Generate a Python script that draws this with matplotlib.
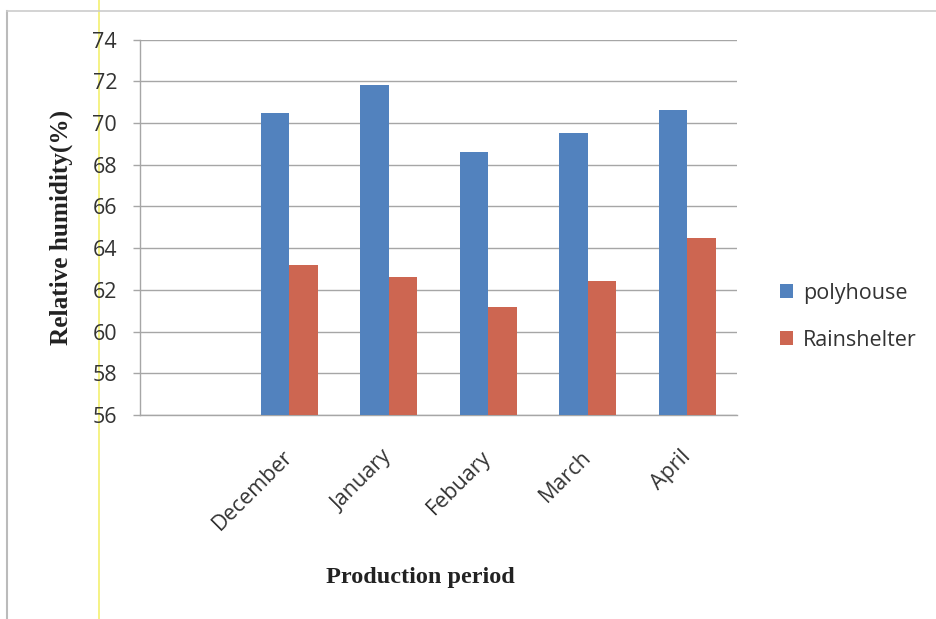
import matplotlib
matplotlib.use("Agg")
import matplotlib.pyplot as plt
import numpy as np
from matplotlib.lines import Line2D

# Relative humidity by production period
categories = ["", "December", "January", "Febuary", "March", "April"]
polyhouse = [np.nan, 70.5, 71.8, 68.6, 69.5, 70.6]
rainshelter = [np.nan, 63.2, 62.6, 61.2, 62.4, 64.5]
yticks = [56, 58, 60, 62, 64, 66, 68, 70, 72, 74]

blue = "#5282BE"
red = "#CD6651"
grid = "#A6A6A6"
tick_font = "Open Sans"

fig = plt.figure(figsize=(9.36, 6.19), dpi=100)
ax = fig.add_axes([140 / 936, 1 - 415 / 619, 597 / 936, 375.5 / 619])

x = np.arange(len(categories))
w = 0.287
ax.bar(x - w / 2, polyhouse, width=w, color=blue, label="polyhouse", zorder=3)
ax.bar(x + w / 2, rainshelter, width=w, color=red, label="Rainshelter", zorder=3)

ax.set_xlim(-0.5, len(categories) - 0.5)
ax.set_ylim(56, 74)
ax.set_yticks(yticks)
ax.set_yticklabels([str(v) for v in yticks], fontsize=15.5, family=tick_font, color="#333333")
ax.yaxis.grid(True, color=grid, linewidth=1.0, zorder=0)
ax.tick_params(axis="y", length=5, color=grid, width=1.0, pad=11.5)

ax.set_xticks(x)
ax.set_xticklabels(categories, rotation=45, ha="right", va="center",
                   rotation_mode="anchor", fontsize=15.5, family=tick_font,
                   color="#333333")
ax.tick_params(axis="x", length=0, pad=28)

for s in ["top", "right"]:
    ax.spines[s].set_visible(False)
for s in ["left", "bottom"]:
    ax.spines[s].set_color(grid)
    ax.spines[s].set_linewidth(1.0)

ax.set_ylabel("Relative humidity(%)", family="Liberation Serif", fontweight="bold",
              fontsize=18.2, color="#222222")
ax.yaxis.set_label_coords(-67 / 597, 0.5)
fig.text(420 / 936, 1 - 577 / 619, "Production period", family="Liberation Serif",
         fontweight="bold", fontsize=17.5, color="#222222", ha="center", va="center")

leg = ax.legend(loc="center left", bbox_to_anchor=(1.04, 0.262), frameon=False,
                prop={"family": tick_font, "size": 15.5}, handlelength=0.6,
                handleheight=0.6, handletextpad=0.45, labelspacing=1.2)
for t in leg.get_texts():
    t.set_color("#333333")

# chart frame and pale marker line
fig.add_artist(Line2D([7 / 936, 7 / 936], [0, 1 - 11 / 619], transform=fig.transFigure,
                      color="#BBBBBB", linewidth=1.5))
fig.add_artist(Line2D([7 / 936, 1], [1 - 11 / 619, 1 - 11 / 619], transform=fig.transFigure,
                      color="#CCCCCC", linewidth=1.2))
fig.add_artist(Line2D([99 / 936, 99 / 936], [0, 1], transform=fig.transFigure,
                      color="#F4F070", linewidth=1.2, zorder=0))

fig.savefig("out.png", dpi=100, facecolor="white")
